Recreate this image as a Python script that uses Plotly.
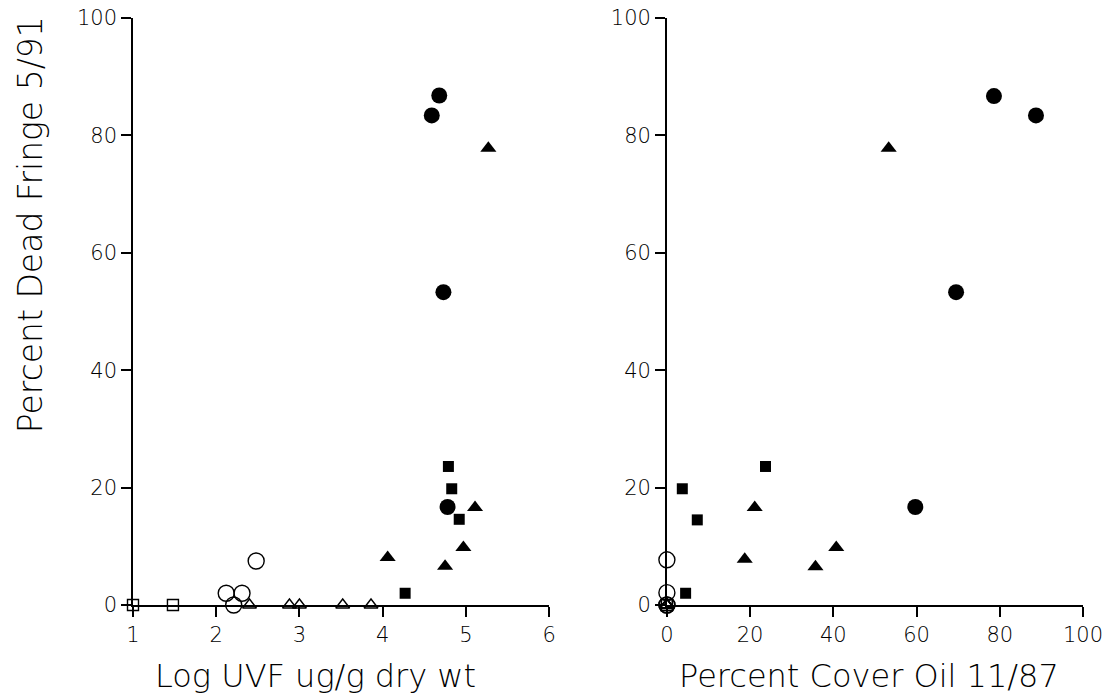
import plotly.graph_objects as go

# ---- data ----
# Left panel: Log UVF (ug/g dry wt) vs Percent Dead Fringe 5/91
uvf_filled_circle_x = [4.68, 4.59, 4.73, 4.78]
uvf_filled_circle_y = [86.8, 83.4, 53.3, 16.7]
uvf_filled_tri_x = [5.27, 5.11, 4.97, 4.06, 4.75]
uvf_filled_tri_y = [77.8, 16.6, 9.8, 8.1, 6.6]
uvf_filled_sq_x = [4.79, 4.83, 4.92, 4.27]
uvf_filled_sq_y = [23.6, 19.8, 14.6, 2.0]
uvf_open_circle_x = [2.12, 2.31, 2.21, 2.48]
uvf_open_circle_y = [2.0, 2.0, 0.0, 7.5]
uvf_open_tri_x = [2.40, 2.88, 3.00, 3.52, 3.86]
uvf_open_tri_y = [0.0, 0.0, 0.0, 0.0, 0.0]
uvf_open_sq_x = [1.00, 1.48]
uvf_open_sq_y = [0.0, 0.0]

# Right panel: Percent Cover Oil 11/87 vs Percent Dead Fringe 5/91
cov_filled_circle_x = [78.6, 88.7, 69.5, 59.7]
cov_filled_circle_y = [86.7, 83.4, 53.3, 16.7]
cov_filled_tri_x = [53.3, 21.1, 40.7, 18.7, 35.7]
cov_filled_tri_y = [77.8, 16.6, 9.8, 7.8, 6.5]
cov_filled_sq_x = [23.7, 3.7, 7.3, 4.5]
cov_filled_sq_y = [23.6, 19.8, 14.5, 2.0]
cov_open_circle_x = [0.0, 0.0, 0.0, 0.0]
cov_open_circle_y = [7.7, 2.1, 0.0, 0.0]
cov_open_tri_x = [0.0, 0.0, 0.0, 0.0, 0.0]
cov_open_tri_y = [0.0, 0.0, 0.0, 0.0, 0.0]
cov_open_sq_x = [0.0, 0.0]
cov_open_sq_y = [0.0, 0.0]

left_xticks = [1, 2, 3, 4, 5, 6]
right_xticks = [0, 20, 40, 60, 80, 100]
yticks = [0, 20, 40, 60, 80, 100]

left_xtitle = "Log UVF ug/g dry wt"
right_xtitle = "Percent Cover Oil 11/87"
ytitle = "Percent Dead Fringe 5/91"

FONT = "DejaVu Sans, Arial, sans-serif"
BLACK = "#000000"

styles = {
    "fc": dict(symbol="circle", size=16, color=BLACK, line=dict(width=0)),
    "ft": dict(symbol="triangle-up", size=14, color=BLACK, line=dict(width=0)),
    "fs": dict(symbol="square", size=11, color=BLACK, line=dict(width=0)),
    "oc": dict(symbol="circle-open", size=16, color=BLACK, line=dict(width=1.4, color=BLACK)),
    "ot": dict(symbol="triangle-up-open", size=12, color=BLACK, line=dict(width=1.4, color=BLACK)),
    "os": dict(symbol="square-open", size=11, color=BLACK, line=dict(width=1.4, color=BLACK)),
}

fig = go.Figure()

def add(x, y, key, xa, ya):
    fig.add_trace(go.Scatter(x=x, y=y, mode="markers", marker=styles[key],
                             xaxis=xa, yaxis=ya, showlegend=False,
                             cliponaxis=False))

# left panel
add(uvf_open_sq_x, uvf_open_sq_y, "os", "x", "y")
add(uvf_open_tri_x, uvf_open_tri_y, "ot", "x", "y")
add(uvf_open_circle_x, uvf_open_circle_y, "oc", "x", "y")
add(uvf_filled_sq_x, uvf_filled_sq_y, "fs", "x", "y")
add(uvf_filled_tri_x, uvf_filled_tri_y, "ft", "x", "y")
add(uvf_filled_circle_x, uvf_filled_circle_y, "fc", "x", "y")

# right panel
add(cov_filled_sq_x, cov_filled_sq_y, "fs", "x2", "y2")
add(cov_filled_tri_x, cov_filled_tri_y, "ft", "x2", "y2")
add(cov_filled_circle_x, cov_filled_circle_y, "fc", "x2", "y2")
add(cov_open_sq_x, cov_open_sq_y, "os", "x2", "y2")
add(cov_open_tri_x, cov_open_tri_y, "ot", "x2", "y2")
add(cov_open_circle_x, cov_open_circle_y, "oc", "x2", "y2")

axis_common = dict(showgrid=False, zeroline=False, showline=True, linecolor=BLACK,
                   linewidth=1.5, ticks="outside", ticklen=10, tickwidth=1.5,
                   tickcolor=BLACK, automargin=False,
                   tickfont=dict(family=FONT, size=21, color=BLACK, weight=200))

fig.update_layout(
    width=1107, height=700,
    margin=dict(l=133, r=24, t=18, b=95),
    paper_bgcolor="white", plot_bgcolor="white",
    xaxis=dict(domain=[0, 0.438], range=[1, 6], tickvals=left_xticks, anchor="y", **axis_common),
    yaxis=dict(domain=[0, 1], range=[0, 100], tickvals=yticks, anchor="x", **axis_common),
    xaxis2=dict(domain=[0.562, 1], range=[0, 100], tickvals=right_xticks, anchor="y2", **axis_common),
    yaxis2=dict(domain=[0, 1], range=[0, 100], tickvals=yticks, anchor="x2", **axis_common),
)

title_font = dict(family=FONT, size=32, color=BLACK, weight=200)
fig.add_annotation(text=left_xtitle, xref="paper", yref="paper", x=0.1916, y=-0.121,
                   xanchor="center", yanchor="middle", showarrow=False, font=title_font)
fig.add_annotation(text=right_xtitle, xref="paper", yref="paper", x=0.775, y=-0.121,
                   xanchor="center", yanchor="middle", showarrow=False, font=title_font)
fig.add_annotation(text=ytitle, xref="paper", yref="paper", x=0, y=0.647, xshift=-103,
                   xanchor="center", yanchor="middle", textangle=-90, showarrow=False,
                   font=dict(family=FONT, size=33, color=BLACK, weight=200))

fig.write_html("out.html")
